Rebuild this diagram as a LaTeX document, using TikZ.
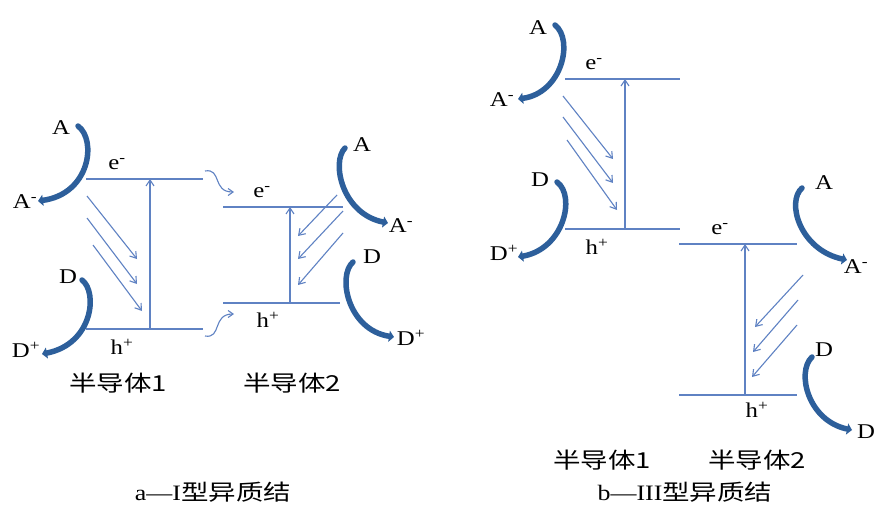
\documentclass[tikz,border=0pt]{standalone}
\usepackage{fontspec}
\setmainfont[FakeStretch=1.18]{Liberation Serif}
\newfontfamily\cjk[FakeStretch=1.25]{Noto Sans CJK SC}
\usetikzlibrary{arrows.meta}
\definecolor{lvl}{RGB}{95,130,195}
\definecolor{thk}{RGB}{45,95,155}
\tikzset{
  level/.style={draw=lvl, line width=1.3pt},
  excite/.style={draw=lvl, line width=1.1pt, -{Straight Barb[length=6pt,width=8pt]}},
  transfer/.style={draw=lvl, line width=1.1pt, -{Straight Barb[length=6pt,width=8pt]}},
  redox/.style={draw=thk, line width=5.5pt, line cap=round, -{Triangle[length=5pt,width=11pt]}},
  squig/.style={draw=lvl, line width=1.1pt, -{Straight Barb[length=5pt,width=7pt]}},
  lab/.style={inner sep=0pt, font=\fontsize{21}{25}\selectfont},
  cn/.style={inner sep=0pt, font=\fontsize{22}{26}\selectfont\cjk},
  captiontext/.style={inner sep=0pt, font=\fontsize{22}{26}\selectfont},
}
\begin{document}
\begin{tikzpicture}[x=1pt,y=-1pt]
\path[use as bounding box, fill=white] (0,0) rectangle (877,506);

% ---------- panel a, semiconductor 1 ----------
\coordinate (a1tl) at (86,179); \coordinate (a1tr) at (203,179);
\coordinate (a1bl) at (86,329); \coordinate (a1br) at (203,329);
\coordinate (a1vb) at (150,329); \coordinate (a1vt) at (150,179);
\draw[level] (a1tl) -- (a1tr);
\draw[level] (a1bl) -- (a1br);
\draw[excite] (a1vb) -- (a1vt);
\coordinate (a1d1s) at (87,196); \coordinate (a1d1e) at (137,259);
\coordinate (a1d2s) at (87,218); \coordinate (a1d2e) at (137,284);
\coordinate (a1d3s) at (93,245); \coordinate (a1d3e) at (142,311);
\draw[transfer] (a1d1s) -- (a1d1e);
\draw[transfer] (a1d2s) -- (a1d2e);
\draw[transfer] (a1d3s) -- (a1d3e);
\node[lab] (a1e) at (117,164) {e\textsuperscript{-}};
\node[lab] (a1h) at (122,347) {h\textsuperscript{+}};
\node[lab] (a1A) at (61,128) {A};
\node[lab] (a1Am) at (25,202) {A\textsuperscript{-}};
\node[lab] (a1D) at (68,277) {D};
\node[lab] (a1Dp) at (26,350) {D\textsuperscript{+}};
\coordinate (a1As) at (78,126); \coordinate (a1Ae) at (38,201);
\coordinate (a1Ds) at (82,280); \coordinate (a1De) at (42,354);
\draw[redox] (a1As) .. controls (97,140) and (90,194) .. (a1Ae);
\draw[redox] (a1Ds) .. controls (98,292) and (93,344) .. (a1De);
\node[cn] (a1n) at (118,383) {半导体1};

% squiggles between semiconductors
\coordinate (sqts) at (205,171); \coordinate (sqte) at (234,192);
\coordinate (sqbs) at (205,336); \coordinate (sqbe) at (234,314);
\draw[squig] (sqts) .. controls (222,168) and (212,192) .. (sqte);
\draw[squig] (sqbs) .. controls (222,339) and (212,314) .. (sqbe);

% ---------- panel a, semiconductor 2 ----------
\coordinate (a2tl) at (223,207); \coordinate (a2tr) at (343,207);
\coordinate (a2bl) at (223,303); \coordinate (a2br) at (340,303);
\coordinate (a2vb) at (290,303); \coordinate (a2vt) at (290,207);
\draw[level] (a2tl) -- (a2tr);
\draw[level] (a2bl) -- (a2br);
\draw[excite] (a2vb) -- (a2vt);
\coordinate (a2d1s) at (337,195); \coordinate (a2d1e) at (298,236);
\coordinate (a2d2s) at (343,211); \coordinate (a2d2e) at (298,259);
\coordinate (a2d3s) at (343,233); \coordinate (a2d3e) at (298,285);
\draw[transfer] (a2d1s) -- (a2d1e);
\draw[transfer] (a2d2s) -- (a2d2e);
\draw[transfer] (a2d3s) -- (a2d3e);
\node[lab] (a2e) at (262,192) {e\textsuperscript{-}};
\node[lab] (a2h) at (268,320) {h\textsuperscript{+}};
\node[lab] (a2A) at (362,145) {A};
\node[lab] (a2Am) at (401,226) {A\textsuperscript{-}};
\node[lab] (a2D) at (372,257) {D};
\node[lab] (a2Dp) at (411,338) {D\textsuperscript{+}};
\coordinate (a2As) at (345,148); \coordinate (a2Ae) at (388,223);
\coordinate (a2Ds) at (353,262); \coordinate (a2De) at (394,337);
\draw[redox] (a2As) .. controls (331,162) and (342,214) .. (a2Ae);
\draw[redox] (a2Ds) .. controls (337,276) and (348,330) .. (a2De);
\node[cn] (a2n) at (292,383) {半导体2};

\node[captiontext] (capa) at (213,492) {a---I{\cjk 型异质结}};

% ---------- panel b, semiconductor 1 ----------
\coordinate (b1tl) at (565,79); \coordinate (b1tr) at (680,79);
\coordinate (b1bl) at (565,229); \coordinate (b1br) at (680,229);
\coordinate (b1vb) at (625,229); \coordinate (b1vt) at (625,79);
\draw[level] (b1tl) -- (b1tr);
\draw[level] (b1bl) -- (b1br);
\draw[excite] (b1vb) -- (b1vt);
\coordinate (b1d1s) at (563,96); \coordinate (b1d1e) at (613,159);
\coordinate (b1d2s) at (563,117); \coordinate (b1d2e) at (613,183);
\coordinate (b1d3s) at (567,140); \coordinate (b1d3e) at (617,210);
\draw[transfer] (b1d1s) -- (b1d1e);
\draw[transfer] (b1d2s) -- (b1d2e);
\draw[transfer] (b1d3s) -- (b1d3e);
\node[lab] (b1e) at (594,64) {e\textsuperscript{-}};
\node[lab] (b1h) at (597,247) {h\textsuperscript{+}};
\node[lab] (b1A) at (538,28) {A};
\node[lab] (b1Am) at (502,100) {A\textsuperscript{-}};
\node[lab] (b1D) at (540,180) {D};
\node[lab] (b1Dp) at (504,253) {D\textsuperscript{+}};
\coordinate (b1As) at (555,25); \coordinate (b1Ae) at (518,99);
\coordinate (b1Ds) at (557,182); \coordinate (b1De) at (518,257);
\draw[redox] (b1As) .. controls (574,40) and (562,93) .. (b1Ae);
\draw[redox] (b1Ds) .. controls (576,196) and (564,249) .. (b1De);

% ---------- panel b, semiconductor 2 ----------
\coordinate (b2tl) at (679,244); \coordinate (b2tr) at (797,244);
\coordinate (b2bl) at (679,395); \coordinate (b2br) at (797,395);
\coordinate (b2vb) at (745,395); \coordinate (b2vt) at (745,244);
\draw[level] (b2tl) -- (b2tr);
\draw[level] (b2bl) -- (b2br);
\draw[excite] (b2vb) -- (b2vt);
\coordinate (b2d1s) at (803,275); \coordinate (b2d1e) at (755,327);
\coordinate (b2d2s) at (798,300); \coordinate (b2d2e) at (753,352);
\coordinate (b2d3s) at (797,325); \coordinate (b2d3e) at (752,377);
\draw[transfer] (b2d1s) -- (b2d1e);
\draw[transfer] (b2d2s) -- (b2d2e);
\draw[transfer] (b2d3s) -- (b2d3e);
\node[lab] (b2e) at (720,229) {e\textsuperscript{-}};
\node[lab] (b2h) at (757,410) {h\textsuperscript{+}};
\node[lab] (b2A) at (824,183) {A};
\node[lab] (b2Am) at (856,267) {A\textsuperscript{-}};
\node[lab] (b2D) at (824,350) {D};
\node[lab] (b2Dx) at (866,432) {D};
\coordinate (b2As) at (802,188); \coordinate (b2Ae) at (847,260);
\coordinate (b2Ds) at (812,357); \coordinate (b2De) at (852,430);
\draw[redox] (b2As) .. controls (786,202) and (800,250) .. (b2Ae);
\draw[redox] (b2Ds) .. controls (796,372) and (808,421) .. (b2De);

\node[cn] (b1n) at (602,460) {半导体1};
\node[cn] (b2n) at (757,460) {半导体2};
\node[captiontext] (capb) at (685,492) {b---III{\cjk 型异质结}};
\end{tikzpicture}
\end{document}
